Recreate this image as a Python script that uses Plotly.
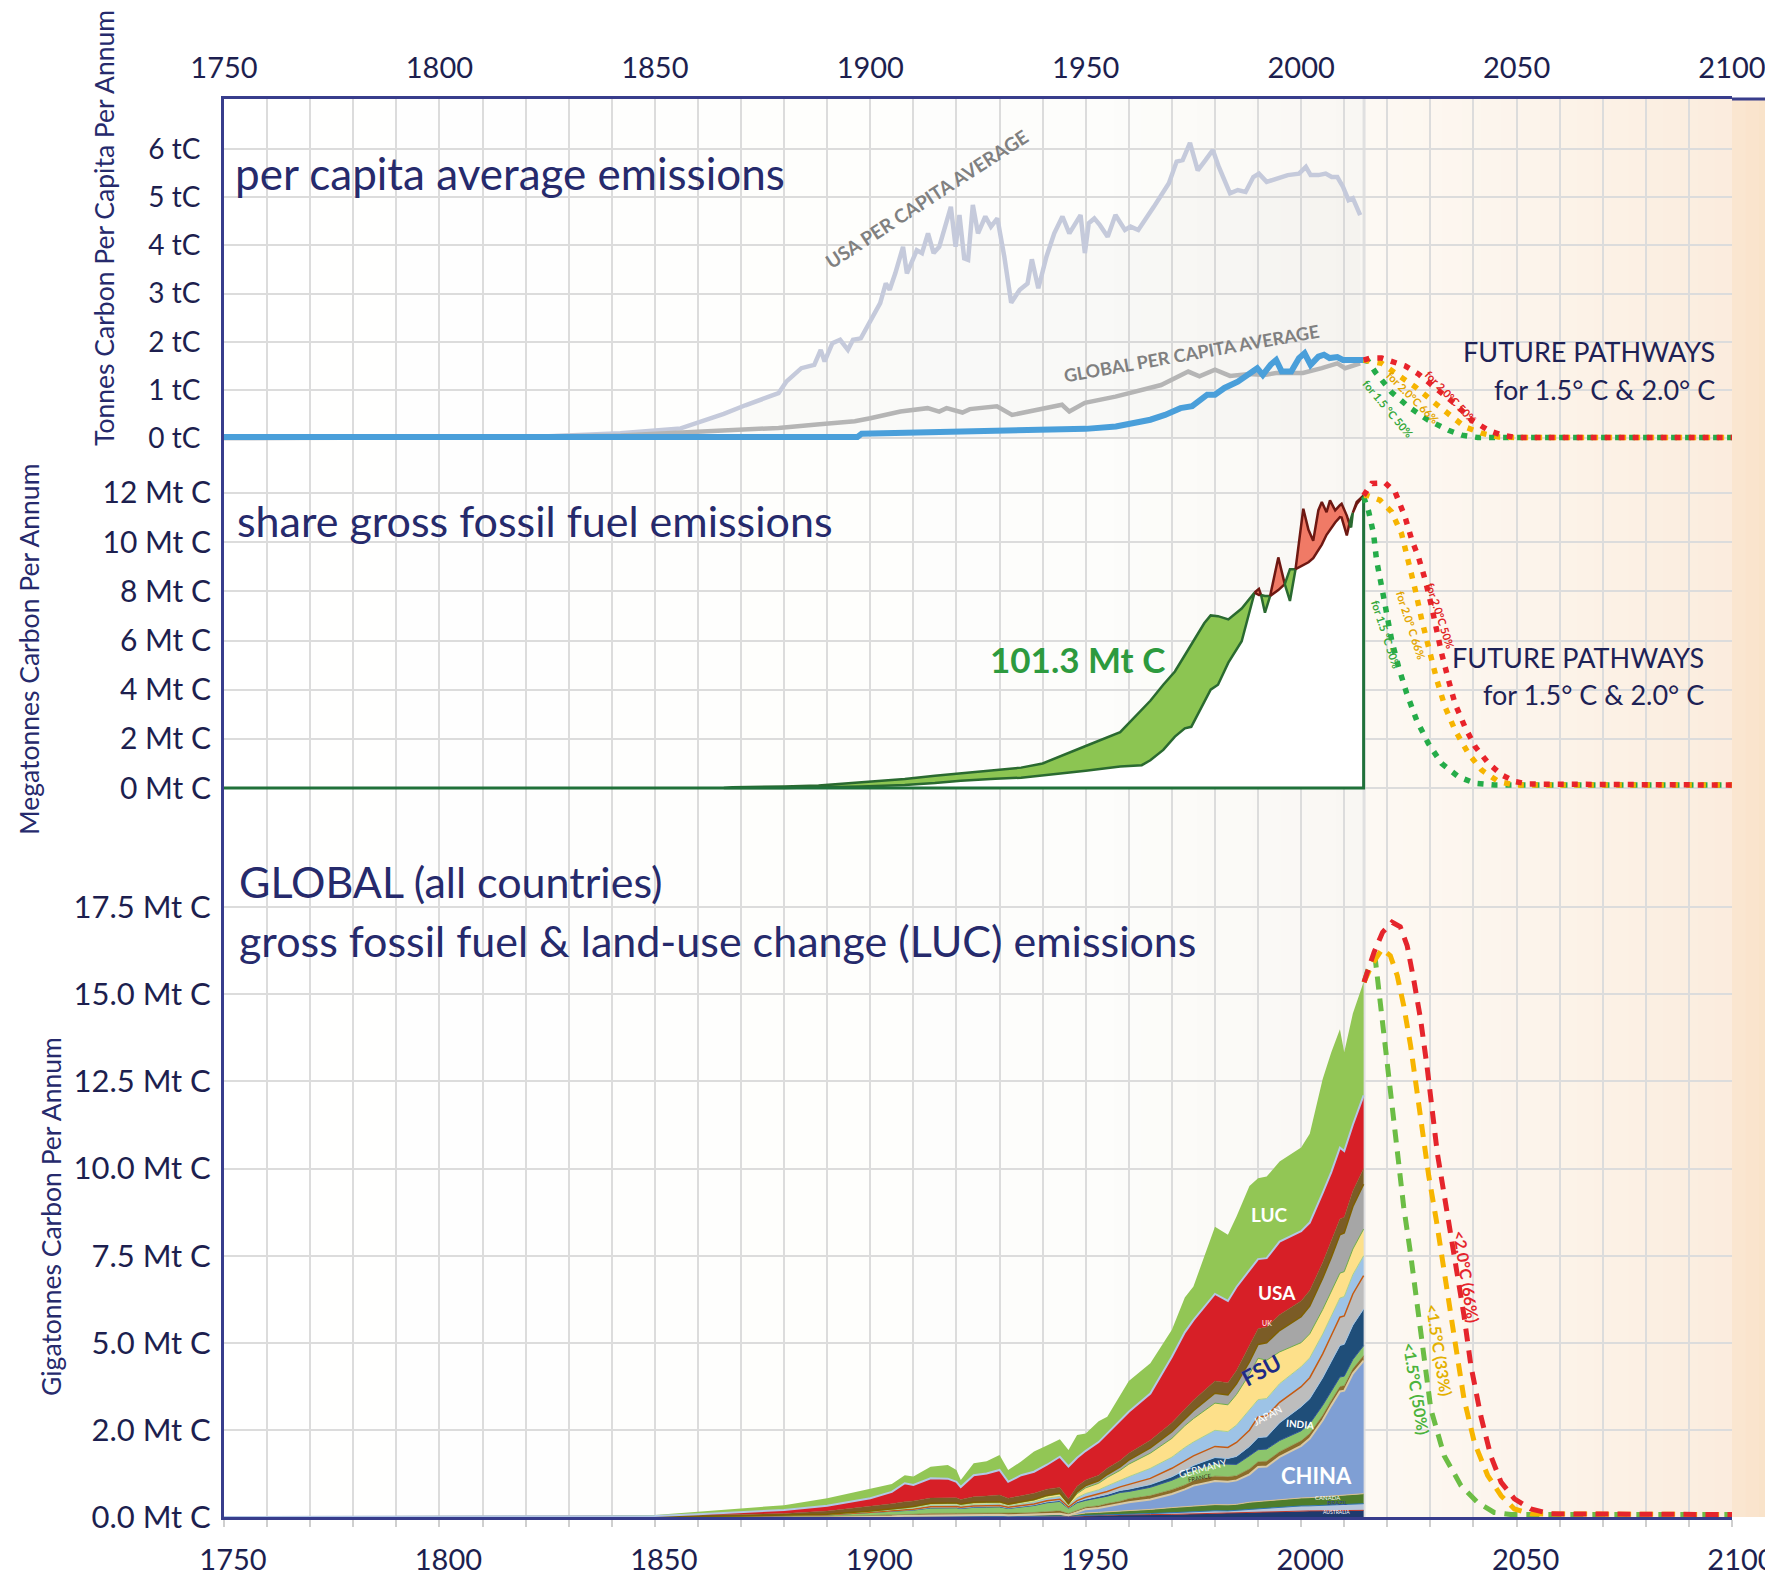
import plotly.graph_objects as go

# ======================= DATA =======================
# --- panel 1: per capita (tC per capita per annum)
usa_years = [1750, 1800, 1824, 1842, 1856, 1866, 1871, 1878.7, 1880.5, 1884,
             1887, 1888.5, 1889.4, 1891.2, 1893, 1894.8, 1896, 1897.8, 1900, 1902.3,
             1903.6, 1904.5, 1905.8, 1907.6, 1908.5, 1910.8, 1912, 1913.4, 1914.7, 1916,
             1918.7, 1919.8, 1920.7, 1921.8, 1922.7, 1923.8, 1925, 1926.7, 1928, 1929.5,
             1931.1, 1932.7, 1934.7, 1936.5, 1937.5, 1939, 1940.9, 1942.7, 1944.6, 1946.2,
             1948.8, 1949.8, 1950.7, 1952, 1953.3, 1955.1, 1956.9, 1959.1, 1960.4, 1962.2,
             1965.8, 1969.3, 1971.1, 1972.5, 1974.2, 1976, 1977.8, 1979.5, 1980.9, 1983.5,
             1985.3, 1987.1, 1988.9, 1990.2, 1992, 1994.2, 1996.9, 1999.5, 2001.1, 2002.2,
             2004, 2005.7, 2007.1, 2008.4, 2009.7, 2011, 2012, 2013.7]
usa_vals = [0.0, 0.01, 0.03, 0.1, 0.2, 0.5, 0.68, 0.93, 1.17, 1.45,
            1.52, 1.83, 1.59, 1.97, 2.04, 1.83, 2.04, 2.07, 2.42, 2.8,
            3.21, 3.08, 3.42, 3.97, 3.42, 3.9, 3.84, 4.25, 3.84, 3.97,
            4.8, 3.97, 4.63, 3.73, 3.7, 4.84, 4.25, 4.6, 4.39, 4.56,
            3.77, 2.81, 3.08, 3.21, 3.71, 3.11, 3.77, 4.25, 4.6, 4.25,
            4.63, 3.84, 4.46, 4.56, 4.42, 4.18, 4.63, 4.32, 4.39, 4.32,
            4.8, 5.29, 5.74, 5.77, 6.13, 5.56, 5.77, 5.98, 5.63, 5.08,
            5.15, 5.11, 5.42, 5.49, 5.32, 5.39, 5.46, 5.49, 5.63, 5.46,
            5.46, 5.49, 5.42, 5.42, 5.22, 4.94, 4.98, 4.63]

glob_years = [1750, 1800, 1842, 1878.7, 1887.6, 1896.4, 1900, 1907, 1913.3, 1916,
              1917.7, 1921.4, 1923.1, 1929.4, 1932.9, 1939.1, 1944.5, 1946.2, 1949.8, 1956.9,
              1963.1, 1967.5, 1973.8, 1976.4, 1980, 1983.5, 1988, 1991.5, 1994.2, 2000.4,
              2004.8, 2008.4, 2010.2, 2013.7]
glob_vals = [0.0, 0.01, 0.05, 0.21, 0.28, 0.35, 0.41, 0.55, 0.62, 0.55,
             0.62, 0.53, 0.6, 0.66, 0.48, 0.59, 0.69, 0.55, 0.73, 0.86,
             1.0, 1.1, 1.38, 1.28, 1.42, 1.29, 1.33, 1.31, 1.35, 1.35,
             1.45, 1.55, 1.45, 1.55]

blue_years = [1750, 1897, 1898, 1919, 1934, 1943, 1950, 1957, 1962, 1965,
              1968.4, 1972, 1974.7, 1976.4, 1978.2, 1980, 1982.2, 1985.3, 1988, 1989.8,
              1991.1, 1992.9, 1994.2, 1995.5, 1997.7, 1999.5, 2000.8, 2002.2, 2004, 2005.3,
              2006.6, 2008.4, 2009.7, 2012, 2014.5]
blue_vals = [0.02, 0.02, 0.09, 0.12, 0.14, 0.16, 0.19, 0.24, 0.31, 0.38,
             0.48, 0.62, 0.66, 0.79, 0.9, 0.9, 1.04, 1.17, 1.35, 1.45,
             1.31, 1.52, 1.62, 1.38, 1.38, 1.66, 1.76, 1.52, 1.69, 1.73,
             1.66, 1.68, 1.62, 1.61, 1.62]

p1_red_x = [2014.5, 2016.0, 2018.7, 2021.0, 2024.1, 2027.2, 2031.1, 2035.7, 2039.6, 2043.5, 2046.6, 2050.0, 2100.0]
p1_red_y = [1.62, 1.66, 1.66, 1.60, 1.50, 1.33, 1.06, 0.71, 0.37, 0.16, 0.06, 0.01, 0.01]
p1_orange_x = [2014.5, 2016.0, 2018.7, 2022.6, 2026.5, 2030.3, 2035.0, 2038.0, 2041.9, 2045.8, 2050.0, 2100.0]
p1_orange_y = [1.62, 1.60, 1.55, 1.30, 1.06, 0.78, 0.44, 0.23, 0.10, 0.02, 0.01, 0.01]
p1_green_x = [2014.5, 2015.6, 2017.2, 2021.0, 2024.9, 2029.5, 2034.2, 2037.3, 2041.0, 2100.0]
p1_green_y = [1.62, 1.59, 1.37, 0.95, 0.65, 0.37, 0.16, 0.06, 0.01, 0.01]

# --- panel 2: share of gross fossil fuel emissions (Mt C)
share_years = [1750, 1866, 1868, 1880, 1888, 1898, 1908, 1915, 1921, 1929,
               1935, 1940, 1945, 1950, 1958, 1963, 1965, 1968, 1970.7, 1973,
               1974.5, 1976, 1977.5, 1979, 1980.7, 1983.1, 1986.2, 1989.2, 1990.2, 1990.7,
               1991.6, 1992.8, 1994.7, 1996.2, 1997.4, 1998.7, 2000.5, 2001.7, 2002.8, 2004.0,
               2004.8, 2005.9, 2006.7, 2007.9, 2009.0, 2009.4, 2010.6, 2011.2, 2011.6, 2012.0,
               2012.9, 2014.5]
share_fair = [0, 0, 0.03, 0.06, 0.10, 0.23, 0.37, 0.50, 0.60, 0.74,
              0.83, 1.00, 1.34, 1.71, 2.27, 3.18, 3.55, 4.20, 4.74, 5.40,
              5.84, 6.30, 6.70, 7.02, 6.99, 6.86, 7.30, 7.95, 7.85, 7.85,
              7.81, 7.81, 8.05, 8.29, 8.90, 8.90, 9.05, 9.18, 9.35, 9.65,
              9.90, 10.30, 10.50, 10.80, 11.02, 11.00, 10.27, 10.75, 11.00, 11.20,
              11.55, 11.90]
share_actual = [0, 0, 0, 0, 0.02, 0.06, 0.12, 0.20, 0.30, 0.38,
                0.42, 0.50, 0.60, 0.70, 0.88, 0.93, 1.13, 1.55, 2.09, 2.43,
                2.49, 3.00, 3.50, 4.00, 4.20, 5.10, 5.97, 7.95, 8.10, 7.85,
                7.13, 7.81, 9.38, 8.29, 7.61, 8.90, 11.36, 10.50, 10.06, 11.30,
                11.63, 11.22, 11.70, 11.29, 11.50, 11.56, 11.08, 10.75, 10.60, 11.20,
                11.63, 11.90]
share_total_label = "101.3 Mt C"

p2_red_x = [2014.5, 2016.4, 2019.5, 2021.8, 2024.1, 2025.7, 2027.2, 2028.8, 2030.3, 2031.5,
            2032.6, 2034.2, 2035.7, 2038.0, 2040.4, 2043.5, 2046.6, 2049.7, 2052.8, 2100.0]
p2_red_y = [11.90, 12.39, 12.41, 12.04, 11.03, 10.08, 9.41, 8.46, 7.37, 6.29,
            5.48, 4.39, 3.44, 2.49, 1.68, 1.00, 0.53, 0.26, 0.16, 0.12]
p2_orange_x = [2014.5, 2015.2, 2018.3, 2021.0, 2023.3, 2024.9, 2026.5, 2028.0, 2029.6, 2031.5,
               2033.4, 2035.7, 2038.8, 2041.9, 2045.8, 2049.7, 2100.0]
p2_orange_y = [11.90, 11.91, 11.71, 11.23, 10.35, 9.27, 8.05, 6.83, 5.61, 4.39,
               3.30, 2.36, 1.41, 0.73, 0.26, 0.12, 0.12]
p2_green_x = [2014.5, 2015.6, 2016.8, 2017.5, 2018.7, 2019.8, 2021.0, 2022.6, 2024.5, 2026.8,
              2029.5, 2032.6, 2036.5, 2040.4, 2045.0, 2100.0]
p2_green_y = [11.84, 11.30, 10.35, 9.27, 8.18, 7.10, 6.02, 4.93, 3.85, 2.76,
              1.82, 1.00, 0.46, 0.19, 0.12, 0.12]

# --- panel 3: global stacked emissions by country + LUC
stack_years = [1750, 1800, 1830, 1850, 1860, 1870, 1880, 1890, 1900, 1905,
               1908, 1910, 1914, 1918, 1920, 1921, 1924, 1927, 1930, 1932,
               1935, 1938, 1941, 1944, 1946, 1948, 1950, 1953, 1955, 1958,
               1960, 1965, 1970, 1973, 1975, 1980, 1983, 1985, 1988, 1990,
               1992, 1995, 2000, 2002, 2005, 2007, 2009, 2010, 2012, 2014.5]
australia = [0, 0, 0, 0, 0, 0, .001, .002, .003, .004,
             .008, .009, .012, .012, .012, .011, .013, .013, .013, .011,
             .013, .015, .019, .02, .011, .022, .036, .042, .049, .058,
             .065, .069, .074, .085, .092, .107, .105, .115, .134, .149,
             .15, .161, .173, .175, .178, .179, .178, .179, .179, .191]
brazil = [0, 0, 0, 0, 0, 0, 0, .001, .002, .002,
          .003, .003, .004, .004, .004, .004, .004, .004, .004, .004,
          .004, .005, .006, .007, .004, .007, .009, .01, .012, .014,
          .016, .03, .049, .057, .061, .071, .07, .076, .089, .099,
          .1, .118, .144, .145, .158, .164, .17, .171, .179, .191]
canada = [0, 0, 0, 0, .001, .002, .003, .005, .01, .013,
          .019, .021, .027, .028, .028, .026, .029, .03, .031, .026,
          .031, .035, .043, .048, .027, .058, .072, .083, .085, .101,
          .098, .119, .147, .156, .168, .178, .175, .172, .2, .198,
          .2, .214, .23, .236, .247, .253, .259, .261, .269, .287]
china = [0, 0, 0, 0, 0, 0, .001, .001, .002, .002,
         .008, .009, .012, .012, .012, .011, .013, .013, .013, .011,
         .013, .015, .019, .02, .011, .043, .108, .125, .165, .194,
         .245, .287, .392, .495, .58, .675, .665, .688, .801, .99,
         1.0, 1.231, 1.495, 1.694, 2.192, 2.608, 2.997, 3.016, 3.491, 3.82]
france = [0, 0, .001, .001, .003, .005, .008, .012, .026, .033,
          .032, .036, .047, .048, .048, .044, .05, .052, .053, .044,
          .053, .06, .074, .082, .046, .065, .054, .062, .073, .086,
          .098, .109, .123, .127, .137, .142, .14, .134, .156, .149,
          .15, .15, .144, .145, .144, .142, .138, .139, .134, .143]
germany = [0, .001, .002, .004, .01, .015, .025, .04, .085, .11,
           .108, .12, .156, .16, .16, .148, .168, .172, .176, .148,
           .176, .2, .248, .272, .152, .216, .198, .229, .214, .252,
           .212, .238, .27, .297, .305, .355, .35, .325, .378, .347,
           .35, .321, .288, .284, .288, .276, .275, .277, .269, .287]
india = [0, 0, 0, 0, .001, .001, .001, .002, .005, .007,
         .011, .012, .016, .016, .016, .015, .017, .017, .018, .015,
         .018, .02, .025, .027, .015, .029, .036, .042, .049, .058,
         .065, .079, .098, .127, .137, .178, .175, .229, .267, .347,
         .35, .508, .69, .714, .788, .842, .907, .913, .985, 1.051]
japan = [0, 0, 0, 0, 0, .001, .001, .002, .003, .005,
         .014, .015, .02, .02, .02, .019, .021, .022, .022, .019,
         .022, .025, .031, .034, .019, .029, .054, .062, .085, .101,
         .13, .178, .245, .255, .275, .32, .315, .401, .467, .594,
         .6, .589, .575, .605, .685, .745, .81, .815, .895, .955]
other_a = [0, 0, 0, .001, .003, .004, .006, .01, .02, .026,
           .032, .036, .047, .048, .048, .044, .05, .052, .053, .044,
           .053, .06, .074, .082, .046, .086, .108, .125, .159, .187,
           .228, .287, .319, .396, .397, .462, .455, .497, .579, .495,
           .5, .535, .575, .569, .569, .551, .551, .554, .555, .573]
fsu = [0, 0, 0, .001, .001, .002, .003, .004, .01, .013,
       .027, .03, .039, .04, .04, .037, .042, .043, .044, .037,
       .044, .05, .062, .068, .038, .115, .162, .187, .244, .288,
       .359, .436, .539, .623, .671, .781, .77, .879, 1.024, 1.188,
       1.1, .91, .69, .69, .706, .7, .713, .717, .734, .764]
other_b = [0, 0, 0, 0, .001, 0, .001, .001, .004, .005,
           .008, .009, .012, .012, .012, .011, .013, .013, .013, .011,
           .013, .015, .019, .02, .011, .05, .063, .073, .085, .101,
           .114, .149, .196, .212, .229, .284, .28, .306, .356, .396,
           .5, .615, .748, .793, .897, .991, 1.102, 1.108, 1.217, 1.289]
uk = [0, .002, .005, .012, .03, .05, .05, .09, .13, .16,
      .17, .16, .15, .15, .15, .13, .16, .17, .19, .17,
      .16, .18, .18, .17, .14, .16, .16, .16, .18, .18,
      .20, .22, .25, .27, .30, .35, .35, .38, .45, .45,
      .45, .45, .45, .45, .45, .45, .45, .45, .45, .45]
usa = [0, .002, .004, .01, .03, .06, .1, .15, .24, .34,
       .53, .46, .57, .55, .46, .36, .62, .65, .72, .47,
       .6, .62, .7, .88, .93, .82, .84, .95, 1.0, 1.13,
       1.19, 1.34, 1.9, 2.2, 2.3, 2.5, 2.35, 2.4, 2.2, 2.0,
       1.98, 2.1, 2.0, 1.95, 2.0, 2.0, 2.05, 1.9, 1.9, 2.1]
luc = [0, .005, .008, .03, .07, .11, .14, .22, .28, .23,
       .23, .24, .33, .39, .34, .2, .34, .35, .43, .34,
       .39, .58, .55, .5, .47, .65, .5, .6, .48, .75,
       .88, .87, .77, 1.0, .96, 1.93, 1.9, 2.02, 2.4, 2.32,
       2.34, 2.3, 2.4, 2.55, 3.27, 3.44, 3.4, 2.84, 3.19, 3.25]

p3_red_x = [2014.6, 2016.9, 2018.9, 2021.1, 2023.0, 2024.6, 2026.1, 2027.7, 2029.2, 2030.4, 2031.6,
            2034.0, 2036.3, 2037.8, 2039.4, 2041.7, 2044.0, 2046.4, 2049.5, 2053.3, 2058.0, 2100.0]
p3_red_y = [15.35, 16.20, 16.78, 17.07, 16.94, 16.40, 15.44, 14.30, 12.95, 11.62, 10.45,
            8.65, 6.93, 5.78, 4.34, 2.90, 1.76, 1.00, 0.52, 0.23, 0.09, 0.07]
p3_orange_x = [2014.6, 2016.5, 2018.8, 2020.7, 2022.3, 2023.8, 2025.4, 2026.9, 2028.1, 2029.6,
               2031.4, 2034.0, 2035.5, 2037.8, 2040.2, 2043.3, 2046.4, 2049.5, 2053.3, 2100.0]
p3_orange_y = [15.35, 15.87, 16.30, 16.11, 15.54, 14.68, 13.53, 12.19, 11.04, 9.80,
               8.50, 6.54, 5.20, 3.39, 2.14, 1.19, 0.61, 0.23, 0.09, 0.07]
p3_green_x = [2014.6, 2015.5, 2017.2, 2018.0, 2019.2, 2020.3, 2021.5, 2022.7, 2023.8, 2025.4,
              2027.8, 2030.1, 2033.2, 2037.1, 2040.9, 2044.8, 2048.7, 2100.0]
p3_green_y = [15.35, 15.70, 16.02, 15.15, 14.00, 12.76, 11.42, 10.20, 8.90, 7.55,
              5.30, 3.10, 1.76, 0.90, 0.42, 0.13, 0.07, 0.07]

# --- ticks
x_tick_years = list(range(1750, 2101, 10))
p1_tick_vals = [0, 1, 2, 3, 4, 5, 6]
p1_tick_text = ["0 tC", "1 tC", "2 tC", "3 tC", "4 tC", "5 tC", "6 tC"]
p2_tick_vals = [0, 2, 4, 6, 8, 10, 12]
p2_tick_text = ["0 Mt C", "2 Mt C", "4 Mt C", "6 Mt C", "8 Mt C", "10 Mt C", "12 Mt C"]
p3_tick_vals = [0, 2.5, 5, 7.5, 10, 12.5, 15, 17.5]
p3_tick_text = ["0.0 Mt C", "2.0 Mt C", "5.0 Mt C", "7.5 Mt C", "10.0 Mt C", "12.5 Mt C",
                "15.0 Mt C", "17.5 Mt C"]

# ======================= STYLE / GEOMETRY =======================
W, H = 1773, 1575
OFF = 8                       # page body margin offset of the figure in the browser
PL, PR, PT, PB = 224, 1732, 99, 1517   # plot area in screen pixels
ML, MT = PL - OFF, PT - OFF
MR, MB = W - (PR - OFF), H - (PB - OFF)
PW, PH = PR - PL, PB - PT
FONT = "Lato, 'Open Sans', sans-serif"
NAVY = "#262a6c"
TICKC = "#1d1f4f"
AXC = "#383d8c"
GRID = "#dcdcdc"
RED, ORANGE, GREEN = "#e8232b", "#f6b400", "#25ac49"
RED3, ORANGE3, GREEN3 = "#e5252c", "#f7b500", "#6cbd45"


def px(x):
    return (x - PL) / PW


def py(y):
    return (PB - y) / PH


D1 = [py(443.8), 1.0]
D2 = [py(795.4), py(443.8)]
D3 = [0.0, py(795.4)]

fig = go.Figure()

# ---------------- panel 1 ----------------
fig.add_trace(go.Scatter(x=usa_years, y=usa_vals, mode="lines", xaxis="x", yaxis="y",
                         line=dict(color="#c5cadb", width=4.5), fill="tozeroy",
                         fillcolor="rgba(140,140,140,0.035)"))
fig.add_trace(go.Scatter(x=glob_years, y=glob_vals, mode="lines", xaxis="x", yaxis="y",
                         line=dict(color="#b5b5b5", width=4.5)))
fig.add_trace(go.Scatter(x=blue_years, y=blue_vals, mode="lines", xaxis="x", yaxis="y",
                         line=dict(color="#4a9fda", width=6)))
DOT = "6px,8px"
for xs, ys, c in [(p1_green_x, p1_green_y, GREEN), (p1_orange_x, p1_orange_y, ORANGE),
                  (p1_red_x, p1_red_y, RED)]:
    fig.add_trace(go.Scatter(x=xs, y=ys, mode="lines", xaxis="x", yaxis="y",
                             line=dict(color=c, width=5.5, dash=DOT)))

# ---------------- panel 2 ----------------
for ys in (share_fair, share_actual):
    fig.add_trace(go.Scatter(x=share_years, y=ys, mode="lines", xaxis="x2", yaxis="y2",
                             line=dict(width=0), fill="tozeroy", fillcolor="white"))
# split into sign-constant segments between crossing points
segs = []
cur, cur_sign = [0], None
for i in range(1, len(share_years)):
    d = share_fair[i] - share_actual[i]
    sg = 0 if abs(d) < 1e-9 else (1 if d > 0 else -1)
    cur.append(i)
    if sg == 0:
        if cur_sign is not None:
            segs.append((cur, cur_sign))
        cur, cur_sign = [i], None
    else:
        cur_sign = sg if cur_sign is None else cur_sign
if cur_sign is not None and len(cur) > 1:
    segs.append((cur, cur_sign))
for idx, sg in segs:
    xs = [share_years[i] for i in idx] + [share_years[i] for i in reversed(idx)]
    ys = [share_fair[i] for i in idx] + [share_actual[i] for i in reversed(idx)]
    fc, lc = ("#8cc552", "#2a6a30") if sg > 0 else ("#f07a66", "#6e1812")
    fig.add_trace(go.Scatter(x=xs, y=ys, mode="lines", xaxis="x2", yaxis="y2", fill="toself",
                             fillcolor=fc, line=dict(color=lc, width=2.5)))
fig.add_trace(go.Scatter(x=[share_years[0], share_years[-1], share_years[-1]],
                         y=[0, 0, share_fair[-1]], mode="lines", xaxis="x2", yaxis="y2",
                         line=dict(color="#20713a", width=3)))
for xs, ys, c in [(p2_green_x, p2_green_y, GREEN), (p2_orange_x, p2_orange_y, ORANGE),
                  (p2_red_x, p2_red_y, RED)]:
    fig.add_trace(go.Scatter(x=xs, y=ys, mode="lines", xaxis="x2", yaxis="y2",
                             line=dict(color=c, width=5.5, dash=DOT)))

# ---------------- panel 3 ----------------
layers = [
    ("AUSTRALIA", australia, "#1f3a6e", "#c0392b", 1),
    ("BRAZIL", brazil, "#b7c6dc", "#2e75b6", 1),
    ("CANADA", canada, "#4e7d2c", "#d9c08f", 1),
    ("CHINA", china, "#7f9fd4", "#d8c9a5", 2),
    ("FRANCE", france, "#8b6c2a", "#8b6c2a", 0.5),
    ("GERMANY", germany, "#8cc56c", "#2f5597", 1),
    ("INDIA", india, "#1f4e79", "#9dc3e6", 1),
    ("JAPAN", japan, "#bdbdbd", "#c55a11", 1.5),
    ("OTHER A", other_a, "#9dc3e6", "#a9d18e", 1),
    ("FSU", fsu, "#fde08a", "#70ad47", 1),
    ("OTHER B", other_b, "#a6a6a6", "#7f6000", 1.5),
    ("UK", uk, "#7b5c26", "#7b5c26", 0.5),
    ("USA", usa, "#d71f27", "#b3c8e6", 2),
    ("LUC", luc, "#92c655", "#92c655", 0),
]
for name, vals, fc, lc, lw in layers:
    fig.add_trace(go.Scatter(x=stack_years, y=vals, name=name, mode="lines", xaxis="x3", yaxis="y3",
                             stackgroup="g", fillcolor=fc, line=dict(color=lc, width=lw)))
DASH = "13px,9px"
for xs, ys, c in [(p3_green_x, p3_green_y, GREEN3), (p3_orange_x, p3_orange_y, ORANGE3),
                  (p3_red_x, p3_red_y, RED3)]:
    fig.add_trace(go.Scatter(x=xs, y=ys, mode="lines", xaxis="x3", yaxis="y3",
                             line=dict(color=c, width=5, dash=DASH)))

# ---------------- background gradient ----------------
shapes = []


def strips(stops, n):
    for (x0, c0), (x1, c1) in zip(stops[:-1], stops[1:]):
        for k in range(n):
            a0 = x0 + (x1 - x0) * k / n
            a1 = x0 + (x1 - x0) * (k + 1) / n
            t = (k + 0.5) / n
            col = tuple(round(c0[j] + (c1[j] - c0[j]) * t) for j in range(3))
            shapes.append(dict(type="rect", xref="paper", yref="paper", x0=a0, x1=a1 + 0.0008,
                               y0=0, y1=1, layer="below", line=dict(width=0),
                               fillcolor="rgb(%d,%d,%d)" % col))


def yr(v):
    return (v - 1750) / 350


strips([(yr(1750), (255, 255, 255)), (yr(1950), (253, 253, 251)), (yr(2014.6), (249, 247, 243))], 10)
strips([(yr(2014.6), (253, 249, 244)), (yr(2060), (252, 243, 233)), (yr(2100), (251, 236, 221))], 10)
strips([(yr(2100), (250, 231, 209)), (px(W), (249, 226, 201))], 3)
shapes.append(dict(type="line", xref="x", yref="paper", x0=2014.6, x1=2014.6, y0=0, y1=1,
                   layer="below", line=dict(color="#e0e0e0", width=3)))
shapes.append(dict(type="line", xref="paper", yref="paper", x0=1, x1=px(W), y0=1, y1=1,
                   layer="above", line=dict(color=AXC, width=3)))

# ---------------- annotations ----------------
ann = []


def text(x, y, s, size, color=NAVY, xref="paper", yref="paper", angle=0, bold=False,
         xanchor="center", yanchor="middle"):
    if bold:
        s = "<b>%s</b>" % s
    ann.append(dict(x=x, y=y, xref=xref, yref=yref, text=s, showarrow=False, textangle=angle,
                    font=dict(size=size, color=color, family=FONT), xanchor=xanchor,
                    yanchor=yanchor))


# panel titles
text(px(233), py(173), "per capita average emissions", 44, xanchor="left")
text(px(235), py(520), "share gross fossil fuel emissions", 43, xanchor="left")
text(px(237), py(882), "GLOBAL (all countries)", 43, xanchor="left")
text(px(237), py(940), "gross fossil fuel &amp; land-use change (LUC) emissions", 43, xanchor="left")
# axis titles
text(px(104), py(228), "Tonnes Carbon Per Capita Per Annum", 26.5, angle=-90)
text(px(29), py(650), "Megatonnes Carbon Per Annum", 26.5, angle=-90)
text(px(51), py(1217), "Gigatonnes Carbon Per Annum", 26.5, angle=-90)
# future pathways
text(px(1717), py(352), "FUTURE PATHWAYS", 27, color="#1e2256", xanchor="right")
text(px(1717), py(389), "for 1.5° C &amp; 2.0° C", 27, color="#1e2256", xanchor="right")
text(px(1706), py(657), "FUTURE PATHWAYS", 27, color="#1e2256", xanchor="right")
text(px(1706), py(694), "for 1.5° C &amp; 2.0° C", 27, color="#1e2256", xanchor="right")
# panel 1 curve labels
text(1913.1, 4.98, "USA PER CAPITA AVERAGE", 19, color="#808080", xref="x", yref="y", angle=-33, bold=True)
text(1974.6, 1.77, "GLOBAL PER CAPITA AVERAGE", 18, color="#808080", xref="x", yref="y", angle=-10, bold=True)
text(2034.7, 0.86, "for 2.0°C 50%", 11, color="#e02424", xref="x", yref="y", angle=46, bold=True)
text(2026.0, 0.85, "for 2.0°C 66%", 11, color="#e3a500", xref="x", yref="y", angle=45, bold=True)
text(2020.2, 0.62, "for 1.5 °C 50%", 11, color="#36a83c", xref="x", yref="y", angle=50, bold=True)
# panel 2 labels
text(1948.2, 5.25, share_total_label, 35, color="#2d9a3e", xref="x2", yref="y2", bold=True)
text(2032.4, 7.03, "for 2.0°C 50%", 11, color="#e02424", xref="x2", yref="y2", angle=72, bold=True)
text(2025.6, 6.63, "for 2.0° C 66%", 11, color="#e3a500", xref="x2", yref="y2", angle=72, bold=True)
text(2019.8, 6.26, "for 1.5 °C 50%", 11, color="#36a83c", xref="x2", yref="y2", angle=72, bold=True)
# panel 3 labels
text(2038.4, 6.9, "&lt;2.0°C (66%)", 16, color="#e5252c", xref="x3", yref="y3", angle=81, bold=True)
text(2032.2, 4.79, "&lt;1.5°C (33%)", 16, color="#e3b000", xref="x3", yref="y3", angle=81, bold=True)
text(2026.8, 3.69, "&lt;1.5°C (50%)", 16, color="#4cb33c", xref="x3", yref="y3", angle=81, bold=True)
text(1992.7, 8.67, "LUC", 19, color="white", xref="x3", yref="y3", bold=True)
text(1994.4, 6.43, "USA", 19, color="white", xref="x3", yref="y3", bold=True)
text(1990.9, 4.22, "FSU", 22, color="#1f2a86", xref="x3", yref="y3", angle=-28, bold=True)
text(1992.0, 5.57, "UK", 7, color="white", xref="x3", yref="y3")
text(1992.3, 2.93, "JAPAN", 10, color="white", xref="x3", yref="y3", angle=-28)
text(1999.7, 2.67, "INDIA", 10, color="white", xref="x3", yref="y3", angle=5, bold=True)
text(2003.6, 1.2, "CHINA", 22, color="white", xref="x3", yref="y3", bold=True)
text(1977.2, 1.41, "GERMANY", 10, color="white", xref="x3", yref="y3", angle=-15)
text(1976.5, 1.12, "FRANCE", 6, color="#3a2a10", xref="x3", yref="y3", angle=-10)
text(2006.2, 0.57, "CANADA", 6, color="white", xref="x3", yref="y3")
text(2008.3, 0.43, "BRAZIL", 6, color="#2f3d8f", xref="x3", yref="y3")
text(2008.3, 0.14, "AUSTRALIA", 5, color="white", xref="x3", yref="y3")

# ---------------- axes ----------------
x_ticktext = [str(v) if v % 50 == 0 else "" for v in x_tick_years]
xbase = dict(range=[1750, 2100], tickmode="array", tickvals=x_tick_years, ticktext=x_ticktext,
             showgrid=True, gridcolor=GRID, gridwidth=1.5, zeroline=False, automargin=False,
             tickfont=dict(size=29, color=TICKC, family=FONT))
ybase = dict(showgrid=True, gridcolor=GRID, gridwidth=1.5, zeroline=False, showline=True,
             linecolor=AXC, linewidth=3, tickmode="array", automargin=False)

fig.update_layout(
    width=W, height=H, margin=dict(l=ML, r=MR, t=MT, b=MB, pad=0, autoexpand=False),
    paper_bgcolor="white", plot_bgcolor="rgba(0,0,0,0)", showlegend=False,
    font=dict(family=FONT, color=NAVY),
    xaxis=dict(xbase, anchor="y", side="top", showline=True, linecolor=AXC, linewidth=3,
               ticks="", ticklabelstandoff=6),
    xaxis2=dict(xbase, anchor="y2", showticklabels=False, showline=False, ticks=""),
    xaxis3=dict(xbase, anchor="y3", side="bottom", showline=True, linecolor=AXC, linewidth=2.5,
                ticks="outside", ticklen=7, tickwidth=1.5, tickcolor="#cfcfcf",
                ticklabelshift=9, ticklabelstandoff=8,
                tickfont=dict(size=29, color=TICKC, family=FONT)),
    yaxis=dict(ybase, domain=D1, anchor="x", range=[-0.12, 7.04], tickvals=p1_tick_vals,
               ticktext=p1_tick_text, ticklabelstandoff=15,
               tickfont=dict(size=28, color=TICKC, family=FONT)),
    yaxis2=dict(ybase, domain=D2, anchor="x2", range=[-0.3, 14.0], tickvals=p2_tick_vals,
                ticktext=p2_tick_text, ticklabelstandoff=4,
                tickfont=dict(size=30, color=TICKC, family=FONT)),
    yaxis3=dict(ybase, domain=D3, anchor="x3", range=[0, 20.71], tickvals=p3_tick_vals,
                ticktext=p3_tick_text, ticklabelstandoff=4,
                tickfont=dict(size=31, color=TICKC, family=FONT)),
    shapes=shapes, annotations=ann,
)

fig.write_html("out.html")
